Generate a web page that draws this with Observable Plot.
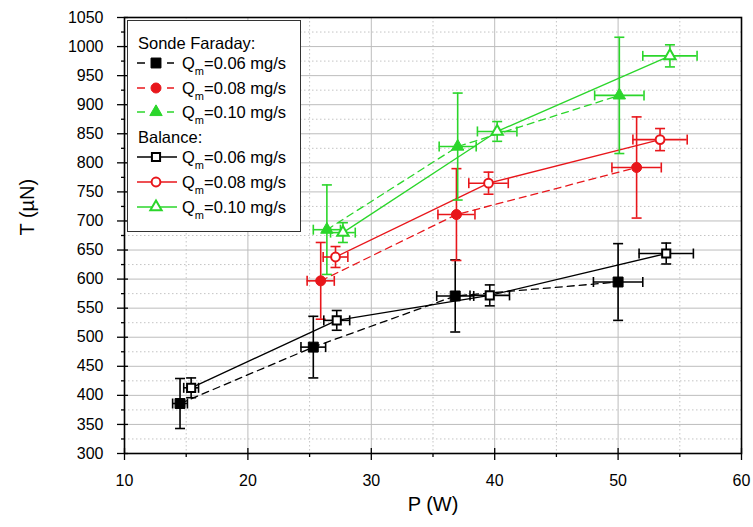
<!DOCTYPE html>
<html>
<head>
<meta charset="utf-8">
<script src="https://cdn.jsdelivr.net/npm/d3@7"></script>
<script src="https://cdn.jsdelivr.net/npm/@observablehq/plot@0.6"></script>
<style>
  html, body { margin: 0; padding: 0; background: white; }
  svg { display: block; }
</style>
</head>
<body>
<div id="chart"></div>
<script>
// ---- Data ----
// Sonde Faraday, Qm = 0.06 mg/s
const P_sf006 = [14.5, 25.3, 36.8, 50.0];
const T_sf006 = [386, 483, 571, 595];
const dT_sf006 = [43, 53, 62, 66];
const dP_sf006 = [0.6, 1.0, 1.5, 2.0];
// Sonde Faraday, Qm = 0.08 mg/s
const P_sf008 = [25.9, 36.9, 51.5];
const T_sf008 = [597, 711, 792];
const dT_sf008 = [66, 79, 87];
const dP_sf008 = [1.1, 1.5, 2.0];
// Sonde Faraday, Qm = 0.10 mg/s
const P_sf010 = [26.4, 37.0, 50.1];
const T_sf010 = [685, 828, 916];
const dT_sf010 = [77, 92, 100];
const dP_sf010 = [1.1, 1.5, 2.0];
// Balance, Qm = 0.06 mg/s
const P_b006 = [15.4, 27.2, 39.6, 53.9];
const T_b006 = [413, 529, 572, 644];
const dT_b006 = [17, 17, 18, 18];
const dP_b006 = [0.6, 1.05, 1.6, 2.2];
// Balance, Qm = 0.08 mg/s
const P_b008 = [27.1, 39.5, 53.4];
const T_b008 = [638, 765, 840];
const dT_b008 = [18, 19, 19];
const dP_b008 = [1.0, 1.6, 2.2];
// Balance, Qm = 0.10 mg/s
const P_b010 = [27.7, 40.2, 54.2];
const T_b010 = [680, 854, 984];
const dT_b010 = [17, 17, 19];
const dP_b010 = [1.0, 1.6, 2.2];

const xTicks = [10, 20, 30, 40, 50, 60];
const xMinor = [15, 25, 35, 45, 55];
const yTicks = [300, 350, 400, 450, 500, 550, 600, 650, 700, 750, 800, 850, 900, 950, 1000, 1050];
const yMinor = [325, 375, 425, 475, 525, 575, 625, 675, 725, 775, 825, 875, 925, 975, 1025];

const legendGroups = ["Sonde Faraday:", "Balance:"];
const qLabels = ["=0.06 mg/s", "=0.08 mg/s", "=0.10 mg/s"];

const BLACK = "#000000", RED = "#e8161b", GREEN = "#2bd62b";

const series = [
  {P: P_sf006, T: T_sf006, dT: dT_sf006, dP: dP_sf006, color: BLACK, filled: true, symbol: "square", dashed: true},
  {P: P_sf008, T: T_sf008, dT: dT_sf008, dP: dP_sf008, color: RED, filled: true, symbol: "circle", dashed: true},
  {P: P_sf010, T: T_sf010, dT: dT_sf010, dP: dP_sf010, color: GREEN, filled: true, symbol: "triangle", dashed: true},
  {P: P_b006, T: T_b006, dT: dT_b006, dP: dP_b006, color: BLACK, filled: false, symbol: "square", dashed: false},
  {P: P_b008, T: T_b008, dT: dT_b008, dP: dP_b008, color: RED, filled: false, symbol: "circle", dashed: false},
  {P: P_b010, T: T_b010, dT: dT_b010, dP: dP_b010, color: GREEN, filled: false, symbol: "triangle", dashed: false}
];

// custom cap symbols (half-length = r)
const hcap = {draw(ctx, size) { const w = Math.sqrt(size / Math.PI); ctx.moveTo(-w, 0); ctx.lineTo(w, 0); }};
const vcap = {draw(ctx, size) { const h = Math.sqrt(size / Math.PI); ctx.moveTo(0, -h); ctx.lineTo(0, h); }};

function markerR(s) {
  if (s.symbol === "square") return s.filled ? 5.6 : 4.6;
  if (s.symbol === "circle") return s.filled ? 5 : 4.4;
  return s.filled ? 4.6 : 4.2;
}

const lineMarks = [], errMarks = [], dotMarks = [];
for (const s of series) {
  const rows = s.P.map((p, i) => ({P: p, T: s.T[i], dT: s.dT[i], dP: s.dP[i]}));
  lineMarks.push(Plot.line(rows, {x: "P", y: "T", stroke: s.color, strokeWidth: 1.3,
    strokeDasharray: s.dashed ? "7,5" : null}));
  errMarks.push(
    Plot.ruleX(rows, {x: "P", y1: d => d.T - d.dT, y2: d => d.T + d.dT, stroke: s.color, strokeWidth: 1.6}),
    Plot.ruleY(rows, {y: "T", x1: d => d.P - d.dP, x2: d => d.P + d.dP, stroke: s.color, strokeWidth: 1.6}),
    Plot.dot(rows, {x: "P", y: d => d.T + d.dT, symbol: hcap, r: 5, stroke: s.color, fill: "none", strokeWidth: 1.6}),
    Plot.dot(rows, {x: "P", y: d => d.T - d.dT, symbol: hcap, r: 5, stroke: s.color, fill: "none", strokeWidth: 1.6}),
    Plot.dot(rows, {x: d => d.P + d.dP, y: "T", symbol: vcap, r: 5, stroke: s.color, fill: "none", strokeWidth: 1.6}),
    Plot.dot(rows, {x: d => d.P - d.dP, y: "T", symbol: vcap, r: 5, stroke: s.color, fill: "none", strokeWidth: 1.6})
  );
  dotMarks.push(Plot.dot(rows, {x: "P", y: "T", symbol: s.symbol, r: markerR(s),
    fill: s.filled ? s.color : "white", stroke: s.color, strokeWidth: s.filled ? 1 : 2}));
}

const FONT = "'Liberation Sans', Arial, Helvetica, sans-serif";
const fmt = d => String(d);

const chart = Plot.plot({
  width: 753,
  height: 527,
  marginLeft: 124,
  marginRight: 12,
  marginTop: 17,
  marginBottom: 74,
  style: {fontFamily: FONT, fontSize: "16px", color: "black", background: "white"},
  x: {domain: [10, 60]},
  y: {domain: [300, 1050]},
  marks: [
    Plot.gridX(xMinor, {stroke: "#c4c4c4", strokeOpacity: 1, strokeDasharray: "1.5,2.5"}),
    Plot.gridY(yMinor, {stroke: "#c4c4c4", strokeOpacity: 1, strokeDasharray: "1.5,2.5"}),
    Plot.gridX(xTicks, {stroke: "#bdbdbd", strokeOpacity: 1, strokeWidth: 1}),
    Plot.gridY(yTicks, {stroke: "#bdbdbd", strokeOpacity: 1, strokeWidth: 1}),
    Plot.axisX(xTicks, {tickSize: 7, tickPadding: 14, fontSize: 16, tickFormat: fmt, label: null, strokeWidth: 1.3}),
    Plot.axisX(xTicks, {tickSize: -5, tickFormat: () => "", label: null, strokeWidth: 1.3}),
    Plot.axisX(xMinor, {tickSize: 4, tickFormat: () => "", label: null, strokeWidth: 1.3}),
    Plot.axisY(yTicks, {tickSize: 7, tickPadding: 14, fontSize: 16, tickFormat: fmt, label: null, strokeWidth: 1.3}),
    Plot.axisY(yTicks, {tickSize: -4, tickFormat: () => "", label: null, strokeWidth: 1.3}),
    Plot.axisY(yMinor, {tickSize: 3, tickFormat: () => "", label: null, strokeWidth: 1.3}),
    ...lineMarks,
    ...errMarks,
    ...dotMarks,
    Plot.frame({stroke: "black", strokeWidth: 1.6}),
    Plot.text(["P (W)"], {frameAnchor: "bottom", dy: 57, fontSize: 20, fill: "black"}),
    Plot.text(["T (µN)"], {frameAnchor: "left", dx: -97, rotate: -90, fontSize: 20, fill: "black"})
  ]
});

document.getElementById("chart").appendChild(chart);

// ---- Legend (drawn inside the SVG) ----
const svg = d3.select(chart);
const lg = svg.append("g").attr("font-family", FONT).attr("fill", "black").attr("text-anchor", "start");
lg.append("rect").attr("x", 127.5).attr("y", 20.5).attr("width", 173).attr("height", 211)
  .attr("fill", "white").attr("stroke", "#333").attr("stroke-width", 1);

const headerY = [43, 137];
const rowY = [[63, 88, 112], [157, 182, 207]];
legendGroups.forEach((h, gi) => {
  lg.append("text").attr("x", 138).attr("y", headerY[gi]).attr("dy", "0.35em")
    .attr("text-anchor", "start").attr("font-size", 16.5).text(h);
  for (let k = 0; k < 3; k++) {
    const s = series[gi * 3 + k];
    const y = rowY[gi][k];
    if (s.dashed) {
      lg.append("line").attr("x1", 137).attr("x2", 145).attr("y1", y).attr("y2", y)
        .attr("stroke", s.color).attr("stroke-width", 1.5);
      lg.append("line").attr("x1", 167).attr("x2", 174).attr("y1", y).attr("y2", y)
        .attr("stroke", s.color).attr("stroke-width", 1.5);
    } else {
      lg.append("line").attr("x1", 137).attr("x2", 177).attr("y1", y).attr("y2", y)
        .attr("stroke", s.color).attr("stroke-width", 1.3);
    }
    const r = markerR(s);
    const type = s.symbol === "square" ? d3.symbolSquare : s.symbol === "circle" ? d3.symbolCircle : d3.symbolTriangle;
    lg.append("path").attr("d", d3.symbol(type, Math.PI * r * r)())
      .attr("transform", `translate(156,${y})`)
      .attr("fill", s.filled ? s.color : "white").attr("stroke", s.color)
      .attr("stroke-width", s.filled ? 1 : 2);
    const t = lg.append("text").attr("x", 182).attr("y", y).attr("dy", "0.35em")
      .attr("text-anchor", "start").attr("font-size", 16.5);
    t.append("tspan").text("Q");
    t.append("tspan").attr("dy", 6).attr("font-size", 11).text("m");
    t.append("tspan").attr("dy", -6).text(qLabels[k]);
  }
});
</script>
</body>
</html>
